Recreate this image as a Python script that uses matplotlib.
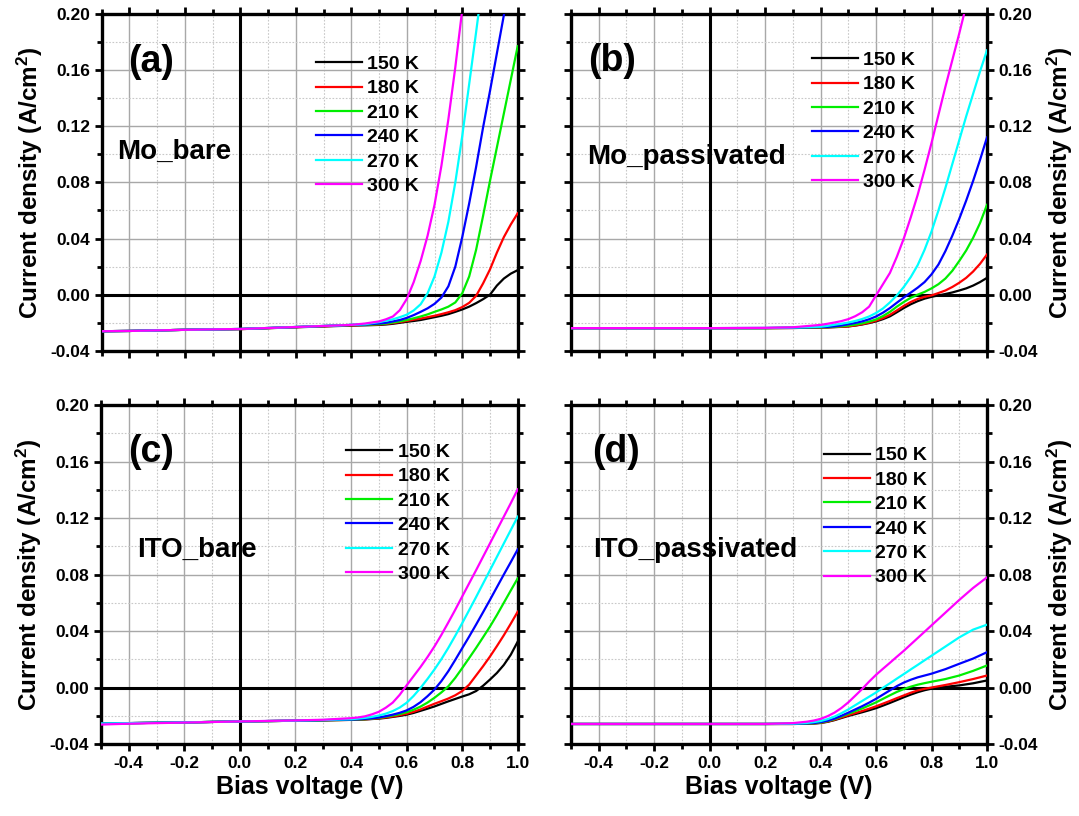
import numpy as np
import matplotlib
matplotlib.use("Agg")
import matplotlib.pyplot as plt
from matplotlib.ticker import MultipleLocator, FormatStrFormatter

plt.rcParams['font.family'] = ['Liberation Sans', 'DejaVu Sans']
plt.rcParams['font.weight'] = 'bold'
plt.rcParams['mathtext.default'] = 'regular'

nan = np.nan
temps = ['150 K', '180 K', '210 K', '240 K', '270 K', '300 K']
colors = ['#000000', '#ff0000', '#00ee00', '#0000ff', '#00ffff', '#ff00ff']

# (a) Mo_bare
xa = [-0.5, -0.4, -0.2, 0.0, 0.2, 0.4, 0.45, 0.5, 0.525, 0.55, 0.575, 0.6, 0.625, 0.65,
      0.675, 0.7, 0.725, 0.75, 0.775, 0.8, 0.825, 0.85, 0.875, 0.9, 0.925, 0.95, 0.975, 1.0]
a_150 = [-0.026, -0.0258, -0.025, -0.0245, -0.0232, -0.022, -0.0218, -0.0215, -0.0212, -0.0207, -0.02,
         -0.0193, -0.0187, -0.018, -0.017, -0.016, -0.015, -0.0138, -0.0122, -0.0105, -0.0085, -0.006,
         -0.0032, 0.0, 0.0065, 0.0115, 0.015, 0.0175]
a_180 = [-0.026, -0.0258, -0.025, -0.0245, -0.0231, -0.0218, -0.0215, -0.0212, -0.0208, -0.0202, -0.0195,
         -0.0187, -0.0178, -0.017, -0.016, -0.015, -0.0138, -0.0125, -0.011, -0.0088, -0.0058, -0.0008,
         0.008, 0.018, 0.03, 0.041, 0.05, 0.058]
a_210 = [-0.026, -0.0258, -0.025, -0.0244, -0.023, -0.0216, -0.0214, -0.021, -0.0205, -0.0198, -0.019,
         -0.018, -0.0168, -0.0155, -0.014, -0.0122, -0.0105, -0.0085, -0.0055, 0.001, 0.013, 0.032,
         0.056, 0.081, 0.105, 0.129, 0.153, 0.177]
a_240 = [-0.026, -0.0258, -0.025, -0.0244, -0.023, -0.0215, -0.0212, -0.0205, -0.02, -0.019, -0.018,
         -0.0165, -0.0145, -0.0122, -0.0097, -0.0065, -0.002, 0.006, 0.02, 0.041, 0.065, 0.091,
         0.119, 0.145, 0.172, 0.199, 0.226, nan]
a_270 = [-0.026, -0.0258, -0.025, -0.0244, -0.023, -0.0215, -0.021, -0.0195, -0.0185, -0.0175, -0.016,
         -0.0142, -0.0112, -0.0068, 0.001, 0.013, 0.03, 0.052, 0.08, 0.113, 0.15, 0.187,
         0.225, nan, nan, nan, nan, nan]
a_300 = [-0.026, -0.0258, -0.025, -0.0244, -0.023, -0.0215, -0.0205, -0.019, -0.0175, -0.0155, -0.011,
         -0.003, 0.009, 0.024, 0.042, 0.064, 0.092, 0.125, 0.162, 0.203, 0.25, nan,
         nan, nan, nan, nan, nan, nan]

# (b) Mo_passivated
xb = [-0.5, -0.4, -0.2, 0.0, 0.2, 0.3, 0.4, 0.425, 0.45, 0.475, 0.5, 0.525, 0.55, 0.575, 0.6,
      0.625, 0.65, 0.675, 0.7, 0.725, 0.75, 0.775, 0.8, 0.825, 0.85, 0.875, 0.9, 0.925, 0.95,
      0.975, 1.0]
b_150 = [-0.0238, -0.0238, -0.0238, -0.0238, -0.0238, -0.0237, -0.0234, -0.0233, -0.0231, -0.0229,
         -0.0226, -0.022, -0.0212, -0.0202, -0.019, -0.0174, -0.0154, -0.0125, -0.0095, -0.0068,
         -0.0046, -0.0028, -0.0015, -0.0005, 0.0005, 0.0016, 0.003, 0.0045, 0.0065, 0.009, 0.012]
b_180 = [-0.0238, -0.0238, -0.0238, -0.0238, -0.0238, -0.0237, -0.0234, -0.0232, -0.023, -0.0228,
         -0.0225, -0.0219, -0.021, -0.0199, -0.0185, -0.0167, -0.0143, -0.0112, -0.008, -0.0052,
         -0.003, -0.0015, -0.0005, 0.0012, 0.003, 0.0055, 0.0085, 0.012, 0.0165, 0.022, 0.0286]
b_210 = [-0.0238, -0.0238, -0.0238, -0.0238, -0.0238, -0.0236, -0.0232, -0.0231, -0.0228, -0.0225,
         -0.022, -0.0213, -0.0204, -0.0192, -0.0176, -0.0152, -0.0122, -0.0085, -0.0052, -0.0022,
         0.0, 0.002, 0.0045, 0.0075, 0.0115, 0.017, 0.024, 0.0315, 0.0405, 0.051, 0.064]
b_240 = [-0.0238, -0.0238, -0.0238, -0.0238, -0.0237, -0.0235, -0.023, -0.0229, -0.0225, -0.0219,
         -0.021, -0.0201, -0.019, -0.0175, -0.0155, -0.0128, -0.0095, -0.0057, -0.002, 0.0015,
         0.005, 0.009, 0.0145, 0.0215, 0.031, 0.042, 0.054, 0.067, 0.081, 0.096, 0.112]
b_270 = [-0.0238, -0.0238, -0.0238, -0.0238, -0.0237, -0.0234, -0.0228, -0.0222, -0.0214, -0.0207,
         -0.0198, -0.0187, -0.0173, -0.0155, -0.013, -0.0098, -0.0055, -0.0005, 0.0055, 0.0125,
         0.021, 0.032, 0.045, 0.06, 0.076, 0.093, 0.11, 0.127, 0.143, 0.159, 0.174]
b_300 = [-0.0238, -0.0238, -0.0238, -0.0238, -0.0236, -0.0232, -0.0215, -0.0207, -0.0198, -0.0188,
         -0.0174, -0.0153, -0.0125, -0.0085, -0.0005, 0.0075, 0.0155, 0.027, 0.04, 0.055,
         0.071, 0.089, 0.108, 0.128, 0.148, 0.167, 0.186, 0.206, 0.226, nan, nan]

# (c) ITO_bare
xc = [-0.5, -0.4, -0.2, 0.0, 0.2, 0.3, 0.4, 0.425, 0.45, 0.475, 0.5, 0.525, 0.55, 0.575, 0.6,
      0.625, 0.65, 0.675, 0.7, 0.725, 0.75, 0.775, 0.8, 0.825, 0.85, 0.875, 0.9, 0.925, 0.95,
      0.975, 1.0]
c_150 = [-0.0255, -0.0252, -0.0247, -0.024, -0.0235, -0.0232, -0.0229, -0.0228, -0.0226, -0.0223,
         -0.022, -0.0215, -0.0208, -0.0201, -0.0192, -0.018, -0.0165, -0.015, -0.0134, -0.0116,
         -0.0098, -0.0081, -0.0064, -0.0048, -0.0025, 0.0012, 0.0056, 0.0103, 0.016, 0.0232, 0.0325]
c_180 = [-0.0255, -0.0252, -0.0247, -0.024, -0.0235, -0.0232, -0.0229, -0.0227, -0.0225, -0.0222,
         -0.0218, -0.0212, -0.0205, -0.0196, -0.0186, -0.0172, -0.0155, -0.0135, -0.0115, -0.0097,
         -0.0078, -0.0055, -0.0025, 0.002, 0.0085, 0.015, 0.0219, 0.0293, 0.037, 0.0452, 0.0537]
c_210 = [-0.0255, -0.0252, -0.0247, -0.024, -0.0235, -0.0232, -0.0228, -0.0226, -0.0224, -0.022,
         -0.0215, -0.0207, -0.0198, -0.0188, -0.0175, -0.0157, -0.0135, -0.0107, -0.0073, -0.0035,
         0.0008, 0.0068, 0.0137, 0.0208, 0.028, 0.0355, 0.0431, 0.0513, 0.06, 0.0687, 0.0773]
c_240 = [-0.0255, -0.0252, -0.0247, -0.024, -0.0235, -0.0231, -0.0227, -0.0225, -0.0222, -0.0218,
         -0.0212, -0.0203, -0.0192, -0.0179, -0.0162, -0.0137, -0.0104, -0.0062, -0.0015, 0.0045,
         0.0115, 0.0195, 0.0278, 0.036, 0.0445, 0.0532, 0.062, 0.071, 0.08, 0.0888, 0.0978]
c_270 = [-0.0255, -0.0252, -0.0247, -0.024, -0.0234, -0.023, -0.0224, -0.022, -0.0215, -0.0208,
         -0.0198, -0.0185, -0.0167, -0.0142, -0.0108, -0.006, -0.0003, 0.006, 0.0127, 0.02,
         0.028, 0.0366, 0.0455, 0.0547, 0.064, 0.0735, 0.083, 0.0925, 0.102, 0.1115, 0.121]
c_300 = [-0.0262, -0.0256, -0.0248, -0.024, -0.0233, -0.0228, -0.0217, -0.0212, -0.0204, -0.019,
         -0.0172, -0.0143, -0.0107, -0.0052, 0.0015, 0.008, 0.0145, 0.0215, 0.029, 0.0372,
         0.046, 0.055, 0.0644, 0.0737, 0.083, 0.0925, 0.102, 0.1115, 0.121, 0.1305, 0.1403]

# (d) ITO_passivated
xd = [-0.5, -0.4, -0.2, 0.0, 0.2, 0.3, 0.35, 0.375, 0.4, 0.425, 0.45, 0.475, 0.5, 0.525, 0.55,
      0.575, 0.6, 0.625, 0.65, 0.675, 0.7, 0.725, 0.75, 0.775, 0.8, 0.85, 0.9, 0.95, 1.0]
d_150 = [-0.0258, -0.0258, -0.0258, -0.0258, -0.0258, -0.0258, -0.0256, -0.0255, -0.0251, -0.0243,
         -0.0231, -0.0216, -0.0201, -0.0188, -0.0175, -0.0161, -0.0146, -0.0128, -0.0109, -0.0089,
         -0.0069, -0.005, -0.0033, -0.0019, -0.0008, 0.0005, 0.0015, 0.003, 0.005]
d_180 = [-0.0258, -0.0258, -0.0258, -0.0258, -0.0258, -0.0258, -0.0256, -0.0254, -0.025, -0.0241,
         -0.0228, -0.0212, -0.0196, -0.0181, -0.0166, -0.015, -0.0133, -0.0114, -0.0095, -0.0075,
         -0.0056, -0.0037, -0.0021, -0.0009, 0.0, 0.0018, 0.0038, 0.006, 0.0085]
d_210 = [-0.0258, -0.0258, -0.0258, -0.0258, -0.0258, -0.0257, -0.0255, -0.0253, -0.0248, -0.0238,
         -0.0224, -0.0205, -0.0186, -0.0167, -0.0148, -0.0127, -0.0105, -0.008, -0.0055, -0.0031,
         -0.0011, 0.0006, 0.002, 0.0031, 0.0041, 0.006, 0.0085, 0.0118, 0.0156]
d_240 = [-0.0258, -0.0258, -0.0258, -0.0258, -0.0258, -0.0257, -0.0254, -0.0251, -0.0245, -0.0235,
         -0.022, -0.02, -0.0178, -0.0155, -0.0132, -0.0107, -0.008, -0.005, -0.002, 0.001,
         0.0035, 0.0055, 0.0072, 0.0085, 0.0098, 0.013, 0.0168, 0.0205, 0.025]
d_270 = [-0.0258, -0.0258, -0.0258, -0.0258, -0.0258, -0.0256, -0.0251, -0.0245, -0.0237, -0.0224,
         -0.0206, -0.0182, -0.0155, -0.0125, -0.0095, -0.0065, -0.0035, -0.0002, 0.003, 0.0063,
         0.0095, 0.0128, 0.016, 0.0193, 0.0225, 0.029, 0.0355, 0.041, 0.0445]
d_300 = [-0.0258, -0.0258, -0.0258, -0.0258, -0.0258, -0.0252, -0.0242, -0.0234, -0.0222, -0.0203,
         -0.0178, -0.0145, -0.0105, -0.0058, -0.001, 0.0042, 0.009, 0.0133, 0.0175, 0.0218,
         0.026, 0.0305, 0.035, 0.0395, 0.044, 0.053, 0.062, 0.0705, 0.078]

panels = [
    # x, curves, tag, name, axes rect, tag pos, name pos, legend anchor, right side
    (xa, [a_150, a_180, a_210, a_240, a_270, a_300], '(a)', 'Mo_bare',
     [0.0943, 0.570, 0.3855, 0.413], (0.063, 0.858), (0.037, 0.59), (0.515, 0.877), False),
    (xb, [b_150, b_180, b_210, b_240, b_270, b_300], '(b)', 'Mo_passivated',
     [0.5292, 0.570, 0.3855, 0.413], (0.041, 0.86), (0.038, 0.576), (0.579, 0.889), True),
    (xc, [c_150, c_180, c_210, c_240, c_270, c_300], '(c)', 'ITO_bare',
     [0.0936, 0.0882, 0.3862, 0.4154], (0.065, 0.861), (0.087, 0.572), (0.589, 0.887), False),
    (xd, [d_150, d_180, d_210, d_240, d_270, d_300], '(d)', 'ITO_passivated',
     [0.5292, 0.0882, 0.3855, 0.4154], (0.05, 0.861), (0.053, 0.572), (0.608, 0.877), True),
]

fig = plt.figure(figsize=(10.79, 8.16), dpi=100)

for i, (x, curves, tag, name, rect, tpos, npos, lpos, right) in enumerate(panels):
    ax = fig.add_axes(rect)
    for y, c, t in zip(curves, colors, temps):
        ax.plot(x, y, color=c, lw=1.6, label=t, zorder=3)
    ax.axhline(0, color='black', lw=2.2, zorder=2)
    ax.axvline(0, color='black', lw=2.2, zorder=2)
    ax.set_xlim(-0.5, 1.0)
    ax.set_ylim(-0.04, 0.20)
    ax.xaxis.set_major_locator(MultipleLocator(0.2))
    ax.xaxis.set_minor_locator(MultipleLocator(0.1))
    ax.yaxis.set_major_locator(MultipleLocator(0.04))
    ax.yaxis.set_minor_locator(MultipleLocator(0.02))
    ax.xaxis.set_major_formatter(FormatStrFormatter('%.1f'))
    ax.yaxis.set_major_formatter(FormatStrFormatter('%.2f'))
    ax.grid(which='major', color='#a8a8a8', lw=1.0, zorder=1)
    ax.grid(which='minor', color='#c8c8c8', lw=0.8, ls=(0, (1.5, 1.5)), zorder=1)
    for s in ax.spines.values():
        s.set_linewidth(2.4)
    ax.tick_params(which='both', direction='out', top=True, right=True, bottom=True, left=True,
                   width=2.0, labelsize=12.5)
    ax.tick_params(which='major', length=5)
    ax.tick_params(which='minor', length=3.5)
    ax.tick_params(labelleft=not right, labelright=right)
    if i < 2:
        ax.tick_params(labelbottom=False)
    else:
        ax.set_xlabel('Bias voltage (V)', fontsize=18, fontweight='bold', labelpad=3)
    ax.set_ylabel('Current density (A/cm$^2$)', fontsize=17.5, fontweight='bold')
    if right:
        ax.yaxis.set_label_position('right')
        ax.yaxis.labelpad = 5
    for lab in ax.get_xticklabels() + ax.get_yticklabels():
        lab.set_fontweight('bold')
    ax.text(tpos[0], tpos[1], tag, transform=ax.transAxes, fontsize=27, fontweight='bold',
            ha='left', va='center', zorder=5)
    ax.text(npos[0], npos[1], name, transform=ax.transAxes, fontsize=20, fontweight='bold',
            ha='left', va='center', zorder=5)
    ax.legend(loc='upper left', bbox_to_anchor=lpos, frameon=False,
              handlelength=2.35, handletextpad=0.3, labelspacing=0.35,
              borderpad=0, borderaxespad=0, prop={'weight': 'bold', 'size': 14})

fig.savefig('out.png', dpi=100)
